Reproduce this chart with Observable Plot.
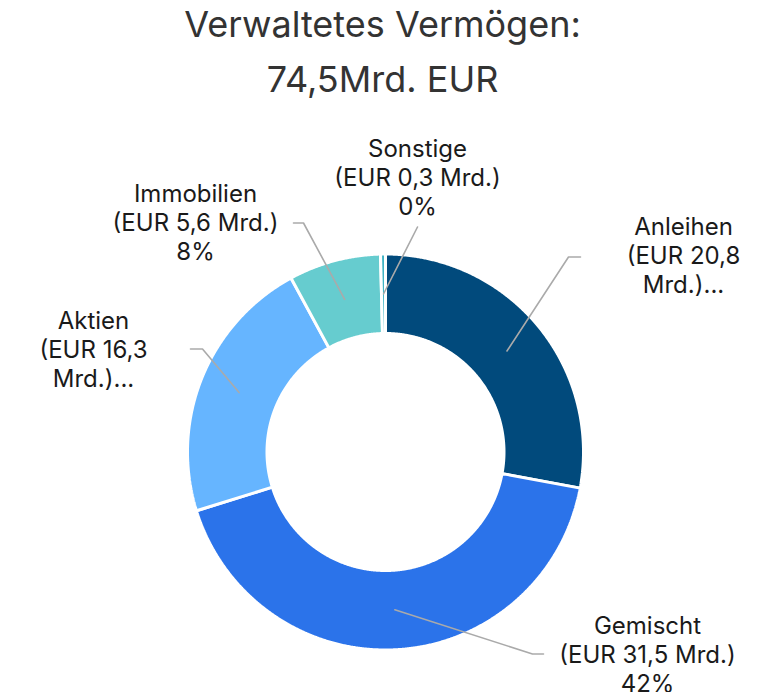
<!DOCTYPE html>
<html><head><meta charset="utf-8">
<script src="https://cdn.jsdelivr.net/npm/d3@7"></script>
<script src="https://cdn.jsdelivr.net/npm/@observablehq/plot@0.6"></script>
<style>
body{margin:0;background:#fff;font-family:Inter,sans-serif;}
#title{width:765px;height:110px;text-align:center;font-size:36px;line-height:55px;color:#333;position:relative;top:-3px;}
#chart{width:765px;height:582px;}
</style></head><body>
<div id="title">Verwaltetes Vermögen:<br>74,5Mrd. EUR</div>
<div id="chart"></div>
<script>
// ---- data ----
const categories = ["Anleihen", "Gemischt", "Aktien", "Immobilien", "Sonstige"];
const values = [20.8, 31.5, 16.3, 5.6, 0.3];
const labelTexts = [
  "Anleihen\n(EUR 20,8\nMrd.)...",
  "Gemischt\n(EUR 31,5 Mrd.)\n42%",
  "Aktien\n(EUR 16,3\nMrd.)...",
  "Immobilien\n(EUR 5,6 Mrd.)\n8%",
  "Sonstige\n(EUR 0,3 Mrd.)\n0%"
];
const colors = ["#014a7c", "#2b73ea", "#66b5ff", "#66cccf", "#40b4c4"];

// ---- layout (pixel units, relative to donut centre) ----
const W = 765, H = 582;
const cx = 385, cy = 341.5;
const rOuter = 198, rInner = 118.5, rLabel = 158;
// elbow point, end of horizontal tick, text centre / first baseline
const labelLayout = [
  {ex: 183, ey: -195, hx: 195, tx: 298, tb: -220},
  {ex: 147, ey: 202, hx: 158, tx: 262, tb: 179},
  {ex: -183, ey: -103, hx: -195, tx: -292, tb: -126},
  {ex: -82, ey: -229, hx: -92, tx: -190, tb: -253},
  {ex: 32, ey: -225, hx: 32, tx: 32, tb: -298}
];

const pie = d3.pie().sort(null).startAngle(0).endAngle(2 * Math.PI)(values);
const pt = (r, a) => [cx + r * Math.sin(a), cy - r * Math.cos(a)];

const marks = [];
pie.forEach((p, i) => {
  const pts = [];
  const n = Math.max(2, Math.ceil((p.endAngle - p.startAngle) / 0.005));
  for (let k = 0; k <= n; k++) {
    const a = p.startAngle + (p.endAngle - p.startAngle) * k / n;
    pts.push(pt(rOuter, a));
  }
  for (let k = n; k >= 0; k--) {
    const a = p.startAngle + (p.endAngle - p.startAngle) * k / n;
    pts.push(pt(rInner, a));
  }
  pts.push(pts[0]);
  marks.push(Plot.line(pts, {x: d => d[0], y: d => d[1], fill: colors[i], stroke: "white", strokeWidth: 3, strokeLinejoin: "miter", curve: "linear"}));
});

// leader lines
pie.forEach((p, i) => {
  const mid = (p.startAngle + p.endAngle) / 2;
  const L = labelLayout[i];
  const s = pt(rLabel, mid);
  const pts = [s, [cx + L.ex, cy + L.ey], [cx + L.hx, cy + L.ey]];
  marks.push(Plot.line(pts, {x: d => d[0], y: d => d[1], stroke: "#aaaaaa", strokeWidth: 1.6}));
});

const fs = 24;
const lh = 28.8;
const labelData = categories.map((c, i) => ({
  text: labelTexts[i],
  x: cx + labelLayout[i].tx,
  y: cy + labelLayout[i].tb - 0.71 * fs
}));
marks.push(Plot.text(labelData, {
  x: "x", y: "y", text: "text", fontSize: fs, lineHeight: lh / fs,
  textAnchor: "middle", lineAnchor: "top", fill: "#1a1a1a", fontFamily: "Inter"
}));

const chart = Plot.plot({
  width: W, height: H,
  margin: 0,
  x: {domain: [0, W], range: [0, W], axis: null},
  y: {domain: [0, H], range: [0, H], axis: null},
  style: {background: "white", fontFamily: "Inter", overflow: "visible"},
  marks
});
document.getElementById("chart").appendChild(chart);
</script>
</body></html>
